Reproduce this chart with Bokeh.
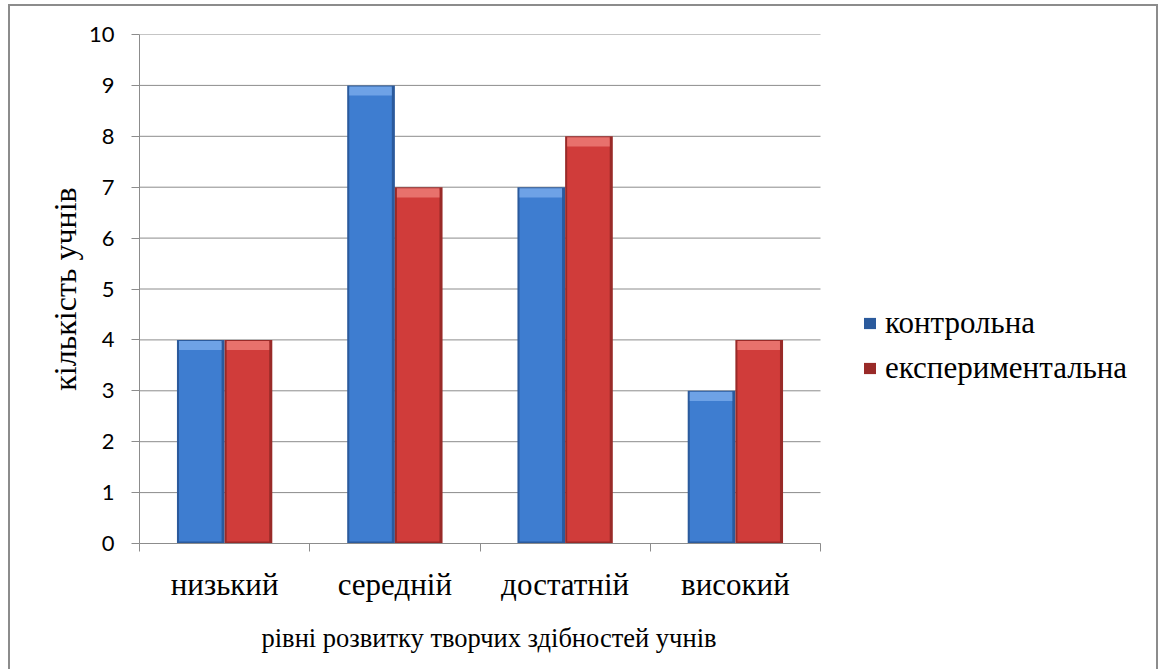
from bokeh.plotting import figure
from bokeh.models import FixedTicker, Legend, LegendItem, ColumnDataSource, Range1d, Title
from bokeh.embed import file_html
from bokeh.resources import INLINE

categories = ["низький", "середній", "достатній", "високий"]
series_names = ["контрольна", "експериментальна"]
control = [4, 9, 7, 3]
experimental = [4, 7, 8, 4]
y_ticks = [0, 1, 2, 3, 4, 5, 6, 7, 8, 9, 10]
x_title = "рівні розвитку творчих здібностей учнів"
y_title = "кількість учнів"

SERIF = "Liberation Serif"
BLUE = "#3e7dd0"
BLUE_DARK = "#2b5a9c"
BLUE_LIGHT = "#6ea2e6"
RED = "#d03c3a"
RED_DARK = "#992a28"
RED_LIGHT = "#e8716c"
GRID = "#8c8c8c"

W, H = 1150, 665
FL, FT, FB = 129, 28, 537  # frame edges in canvas px
n = len(categories)
# plot area (categories) spans 681 px; the frame extends to the right edge to hold the legend
px_per_cat = 681 / n
x_end = (W - FL) / px_per_cat

p = figure(width=W, height=H, output_backend="svg", toolbar_location=None,
           x_range=Range1d(0, x_end), y_range=Range1d(0, 10),
           min_border_left=FL, min_border_right=0,
           min_border_top=FT, min_border_bottom=H - FB)
p.styles = {"margin-left": "8px", "margin-top": "4px",
            "border-top": "2px solid #8c8c8c", "border-left": "2px solid #8c8c8c",
            "border-right": "2px solid #8c8c8c"}
p.outline_line_color = None
p.background_fill_color = "white"
p.border_fill_color = "white"

# horizontal gridlines limited to the category area
p.xgrid.grid_line_color = None
p.ygrid.grid_line_color = None
p.segment(x0=[0] * len(y_ticks), x1=[n] * len(y_ticks), y0=y_ticks, y1=y_ticks,
          line_color=GRID, line_width=1)

bw = 0.28
xs = [i + 0.5 for i in range(n)]


def draw(offset, vals, base, dark, light):
    left = [x + offset for x in xs]
    right = [x + offset + bw for x in xs]
    src = ColumnDataSource(dict(left=left, right=right, top=vals, bottom=[0] * len(vals)))
    r = p.quad(left="left", right="right", top="top", bottom="bottom", source=src,
               fill_color=dark, line_color=None)
    ix = 0.012
    p.quad(left=[l + ix for l in left], right=[rr - ix * 1.5 for rr in right],
           top=[v - 0.06 for v in vals], bottom=[0.04] * len(vals),
           fill_color=base, line_color=None)
    p.quad(left=[l + ix for l in left], right=[rr - ix * 1.5 for rr in right],
           top=[v - 0.02 for v in vals], bottom=[v - 0.2 for v in vals],
           fill_color=light, line_color=None)
    return r


r1 = draw(-bw, control, BLUE, BLUE_DARK, BLUE_LIGHT)
r2 = draw(0.0, experimental, RED, RED_DARK, RED_LIGHT)

# axes
p.xaxis.bounds = (0, n)
p.xaxis.ticker = FixedTicker(ticks=xs, minor_ticks=list(range(n + 1)))
p.xaxis.major_label_overrides = {x: c for x, c in zip(xs, categories)}
p.xaxis.major_tick_out = 0
p.xaxis.major_tick_in = 0
p.xaxis.minor_tick_out = 8
p.xaxis.minor_tick_in = 0
p.xaxis.minor_tick_line_color = GRID
p.xaxis.axis_line_color = GRID
p.xaxis.major_label_text_font = SERIF
p.xaxis.major_label_text_font_size = "31px"
p.xaxis.major_label_text_color = "black"
p.xaxis.major_label_standoff = 15

# x-axis title, centred under the category area (not the whole frame)
xt = Title(text=x_title, align="left", offset=122, standoff=33,
           text_font=SERIF, text_font_size="26.5px", text_font_style="normal",
           text_color="black")
p.add_layout(xt, "below")

p.yaxis.ticker = FixedTicker(ticks=y_ticks)
p.yaxis.major_tick_out = 8
p.yaxis.major_tick_in = 0
p.yaxis.minor_tick_line_color = None
p.yaxis.major_tick_line_color = GRID
p.yaxis.axis_line_color = GRID
p.yaxis.major_label_text_font = "Lato"
p.yaxis.major_label_text_font_size = "22px"
p.yaxis.major_label_text_color = "black"
p.yaxis.major_label_standoff = 17
p.yaxis.axis_label = y_title
p.yaxis.axis_label_text_font = SERIF
p.yaxis.axis_label_text_font_size = "32px"
p.yaxis.axis_label_text_font_style = "normal"
p.yaxis.axis_label_text_color = "black"
p.yaxis.axis_label_standoff = 3

legend = Legend(items=[LegendItem(label=series_names[0], renderers=[r1]),
                       LegendItem(label=series_names[1], renderers=[r2])],
                location=(723, 157), orientation="vertical",
                padding=0, margin=0, spacing=9,
                glyph_width=15, glyph_height=14, label_height=30,
                label_standoff=8,
                label_text_font=SERIF, label_text_font_size="31px",
                label_text_color="black",
                border_line_color=None, background_fill_alpha=0)
p.add_layout(legend, "center")

open("out.html", "w").write(file_html(p, INLINE))
